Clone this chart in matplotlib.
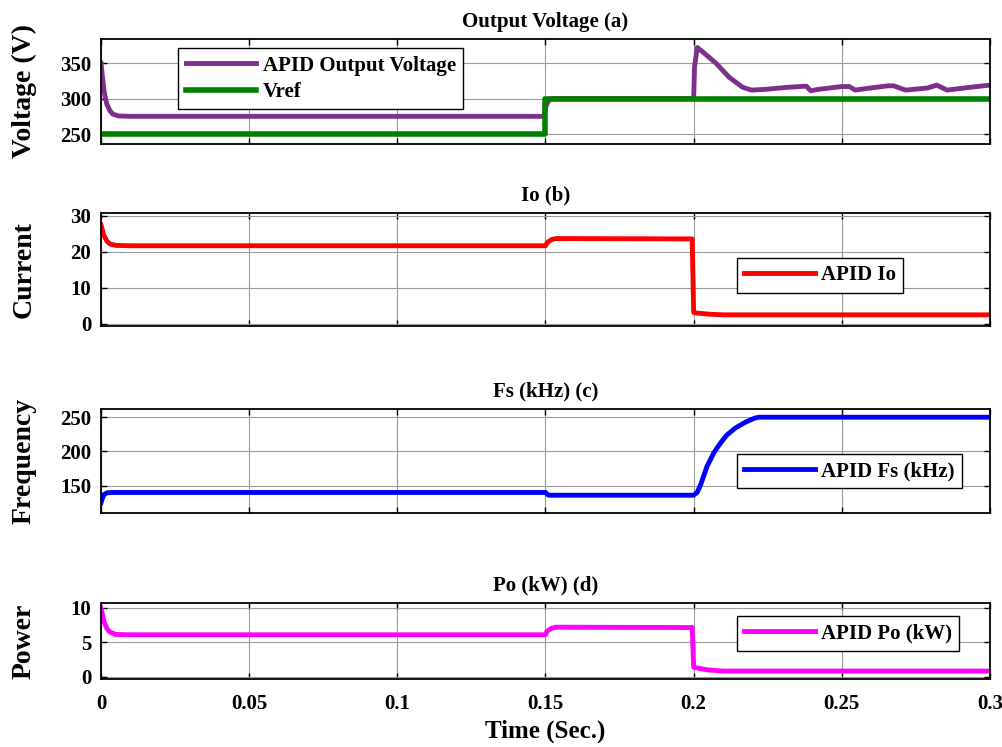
import matplotlib
matplotlib.use('Agg')
import matplotlib.pyplot as plt
import numpy as np

plt.rcParams['font.family'] = ['Liberation Serif', 'DejaVu Serif']
plt.rcParams['font.weight'] = 'bold'

# ---- data (time in s) ----
t_v = [0, 0.0005, 0.001, 0.0015, 0.002, 0.003, 0.004, 0.006, 0.01, 0.05, 0.1, 0.1495,
       0.1502, 0.151, 0.152, 0.2, 0.2003, 0.2012, 0.203, 0.2075, 0.212, 0.2165, 0.2195,
       0.224, 0.232, 0.238, 0.2395, 0.242, 0.25, 0.2525, 0.2545, 0.258, 0.2655, 0.2675,
       0.2715, 0.279, 0.282, 0.2855, 0.2935, 0.3]
v_out = [350, 330, 312, 300, 292, 283, 278, 275.5, 275, 275, 275, 275,
         290, 297, 300, 300, 345, 372, 366, 350, 330, 316, 312,
         313, 316, 317.5, 311, 313, 317, 317, 312, 314, 318, 318,
         312, 315, 319, 312, 316, 319]

t_ref = [0, 0.15, 0.15, 0.3]
v_ref = [250, 250, 300, 300]

t_i = [0, 0.0005, 0.001, 0.002, 0.003, 0.005, 0.01, 0.15, 0.1505, 0.152, 0.1535,
       0.1995, 0.2, 0.201, 0.205, 0.21, 0.3]
i_o = [27.5, 26, 24.5, 23, 22.2, 21.8, 21.7, 21.7, 22.5, 23.4, 23.7,
       23.6, 3.2, 3.0, 2.7, 2.5, 2.5]

t_f = [0, 0.0005, 0.001, 0.002, 0.004, 0.15, 0.151, 0.2, 0.2012, 0.2025, 0.2045,
       0.2068, 0.209, 0.2112, 0.214, 0.2176, 0.2205, 0.222, 0.3]
f_s = [125, 132, 137, 139.5, 140, 140, 136, 136, 140, 153, 178,
       198, 212, 224, 234, 243, 248.5, 250, 250]

t_p = [0, 0.0005, 0.001, 0.002, 0.003, 0.005, 0.01, 0.15, 0.1505, 0.152, 0.1535,
       0.1995, 0.2, 0.201, 0.205, 0.21, 0.3]
p_o = [9.9, 9.0, 8.0, 7.0, 6.5, 6.15, 6.1, 6.1, 6.6, 7.05, 7.2,
       7.15, 1.4, 1.3, 1.0, 0.85, 0.85]

xticks = [0, 0.05, 0.1, 0.15, 0.2, 0.25, 0.3]
xticklabels = ['0', '0.05', '0.1', '0.15', '0.2', '0.25', '0.3']

purple = '#7E2F8E'
green = '#008000'

fig = plt.figure(figsize=(10.03, 7.47), dpi=100)

L, W = 101 / 1003, 889 / 1003
rects = [(144, 105), (326, 113), (513, 104), (679, 76)]  # (bottom px, height px)
axes = []
for b, h in rects:
    axes.append(fig.add_axes([L, 1 - b / 747, W, h / 747]))


def style(ax, yticks, ylim, title, ylabel):
    ax.set_xlim(0, 0.3)
    ax.set_ylim(*ylim)
    ax.set_xticks(xticks)
    ax.set_yticks(yticks)
    ax.grid(True, color='#9a9a9a', linewidth=0.8)
    ax.set_axisbelow(True)
    ax.tick_params(direction='in', top=True, right=True, length=4, labelsize=15,
                   width=1)
    ax.tick_params(axis='y', pad=7)
    ax.tick_params(axis='x', pad=11)
    for s in ax.spines.values():
        s.set_linewidth(1.3)
    ax.set_title(title, fontsize=15, fontweight='bold', pad=9)
    ax.set_ylabel(ylabel, fontsize=20, fontweight='bold')
    ax.yaxis.set_label_coords(-0.072, 0.5)
    for lab in ax.get_yticklabels():
        lab.set_fontweight('bold')


leg_kw = dict(fontsize=15, fancybox=False, edgecolor='black', framealpha=1,
              handlelength=3.4, borderpad=0.35, handletextpad=0.3, borderaxespad=0)

ax = axes[0]
ax.plot(t_v, v_out, color=purple, lw=3.5, label='APID Output Voltage')
ax.plot(t_ref, v_ref, color=green, lw=4, label='Vref')
style(ax, [250, 300, 350], (236, 384), 'Output Voltage (a)', 'Voltage (V)')
ax.legend(loc='upper left', bbox_to_anchor=(0.087, 0.91), labelspacing=0.3, **leg_kw)

ax = axes[1]
ax.plot(t_i, i_o, color='#ff0000', lw=3.5, label='APID Io')
style(ax, [0, 10, 20, 30], (-0.6, 30.8), 'Io (b)', 'Current')
ax.legend(loc='upper left', bbox_to_anchor=(0.715, 0.6), **leg_kw)

ax = axes[2]
ax.plot(t_f, f_s, color='#0000ff', lw=3.5, label='APID Fs (kHz)')
style(ax, [150, 200, 250], (110, 262), 'Fs (kHz) (c)', 'Frequency')
ax.legend(loc='upper left', bbox_to_anchor=(0.715, 0.57), **leg_kw)

ax = axes[3]
ax.plot(t_p, p_o, color='#ff00ff', lw=3.5, label='APID Po (kW)')
style(ax, [0, 5, 10], (-0.3, 10.7), 'Po (kW) (d)', 'Power')
ax.legend(loc='upper left', bbox_to_anchor=(0.715, 0.83), **leg_kw)

for a in axes[:3]:
    a.set_xticklabels([])
axes[3].set_xticklabels(xticklabels, fontweight='bold')
axes[3].set_xlabel('Time (Sec.)', fontsize=18, fontweight='bold', labelpad=4)

fig.savefig('out.png', dpi=100)
